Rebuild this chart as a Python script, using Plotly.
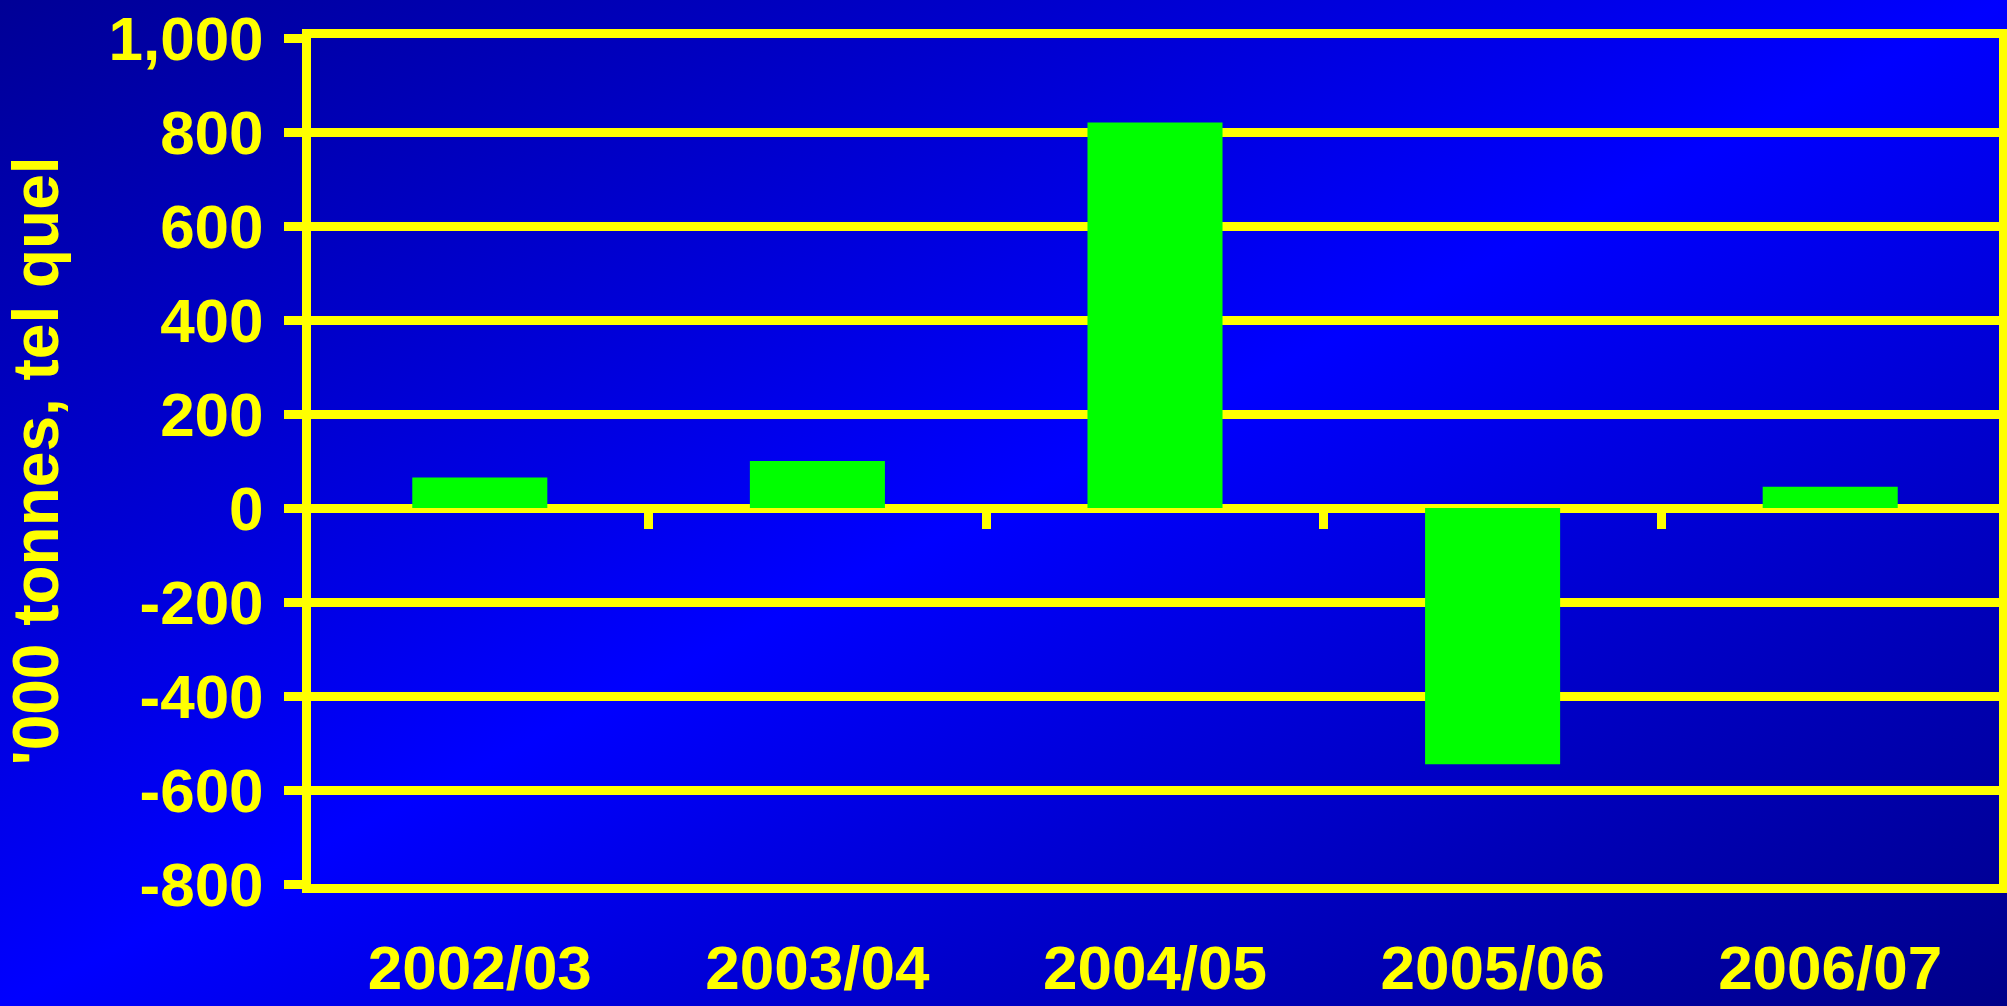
import base64
import plotly.graph_objs as go

seasons = ["2002/03", "2003/04", "2004/05", "2005/06", "2006/07"]
values = [65, 100, 820, -545, 45]   # '000 tonnes, tel quel
y_ticks = [-800, -600, -400, -200, 0, 200, 400, 600, 800, 1000]
y_tick_labels = [f"{v:,}" for v in y_ticks]   # plain hyphen minus, as in the original

YELLOW = "#FFFF00"
GREEN = "#00FF00"
FONT = dict(family="Liberation Sans, Arial, sans-serif", size=62, color=YELLOW, weight="bold")
LINE_W = 9

W, H = 2007, 1006
M = dict(l=311, r=8, t=38, b=122)

# slide-style diagonal gradient: dark corners top-left / bottom-right, bright blue band across
svg = (
    f'<svg xmlns="http://www.w3.org/2000/svg" width="{W}" height="{H}" preserveAspectRatio="none">'
    '<defs><linearGradient id="g" x1="0" y1="0" x2="1" y2="1">'
    '<stop offset="0" stop-color="#000096"/>'
    '<stop offset="0.5" stop-color="#0000FF"/>'
    '<stop offset="1" stop-color="#000088"/>'
    '</linearGradient></defs>'
    f'<rect width="{W}" height="{H}" fill="url(#g)"/></svg>'
)
bg_src = "data:image/svg+xml;base64," + base64.b64encode(svg.encode()).decode()

pw = W - M["l"] - M["r"]
ph = H - M["t"] - M["b"]
y_min, y_max = y_ticks[0], y_ticks[-1]

fig = go.Figure()

fig.add_trace(go.Bar(
    x=seasons,
    y=values,
    marker=dict(color=GREEN, line=dict(width=0)),
    showlegend=False,
))

# helper axis that sits on the zero line, to carry the between-category ticks
fig.add_trace(go.Scatter(x=[], y=[], xaxis="x2", showlegend=False, hoverinfo="skip"))

fig.update_layout(
    width=W,
    height=H,
    margin=M,
    paper_bgcolor="#0000E0",
    plot_bgcolor="rgba(0,0,0,0)",
    bargap=0.6,
    font=FONT,
    images=[dict(
        source=bg_src,
        xref="paper", yref="paper",
        x=-M["l"] / pw, y=1 + M["t"] / ph,
        sizex=W / pw, sizey=H / ph,
        xanchor="left", yanchor="top",
        sizing="stretch",
        layer="below",
    )],
    xaxis=dict(
        type="category",
        range=[-0.5, len(seasons) - 0.5],
        automargin=False,
        showgrid=False,
        zeroline=False,
        showline=True,
        linecolor=YELLOW,
        linewidth=LINE_W,
        mirror=True,
        ticks="",
        tickfont=FONT,
        ticklabelstandoff=22,
    ),
    xaxis2=dict(
        overlaying="x",
        anchor="free",
        position=(0 - y_min) / (y_max - y_min),
        range=[-0.5, len(seasons) - 0.5],
        automargin=False,
        tickmode="array",
        tickvals=[i + 0.5 for i in range(len(seasons) - 1)],
        ticks="outside",
        ticklen=20,
        tickwidth=LINE_W,
        tickcolor=YELLOW,
        showticklabels=False,
        showgrid=False,
        zeroline=False,
        showline=False,
    ),
    yaxis=dict(
        range=[y_min, y_max],
        automargin=False,
        tickmode="array",
        tickvals=y_ticks,
        ticktext=y_tick_labels,
        showgrid=True,
        gridcolor=YELLOW,
        gridwidth=LINE_W,
        zeroline=True,
        zerolinecolor=YELLOW,
        zerolinewidth=LINE_W,
        showline=True,
        linecolor=YELLOW,
        linewidth=LINE_W,
        mirror=True,
        ticks="outside",
        ticklen=18,
        tickwidth=LINE_W,
        tickcolor=YELLOW,
        tickfont=FONT,
        ticklabelstandoff=8,
        title=dict(text="'000 tonnes, tel quel", font=dict(FONT, size=64), standoff=38),
    ),
)

# drop the default body margin so the figure sits flush in the window
fig.write_html(
    "out.html",
    config={"displayModeBar": False},
    post_script="document.body.style.margin='0';document.body.style.overflow='hidden';",
)
